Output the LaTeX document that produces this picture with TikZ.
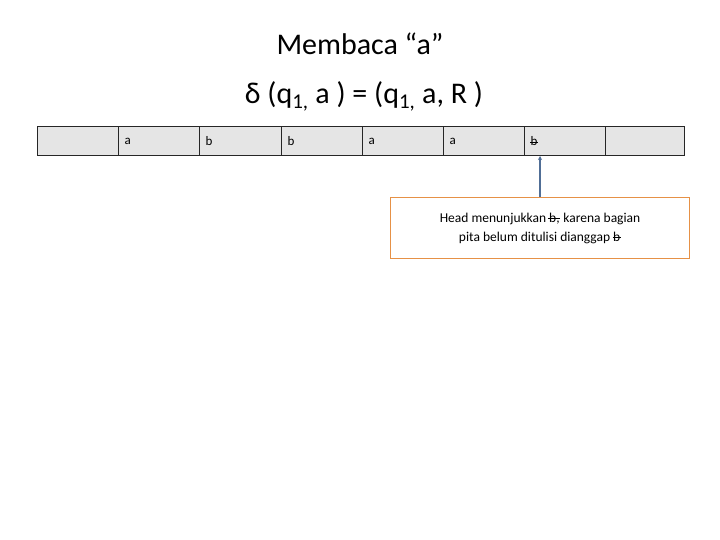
\documentclass[tikz,border=0pt]{standalone}
\usepackage{fontspec}
\usetikzlibrary{arrows.meta}
\setmainfont{Carlito}
\definecolor{calloutorange}{RGB}{230,145,70}
\definecolor{pointerblue}{RGB}{80,110,150}
\newcommand{\strb}{\mbox{b\hspace{-0.55em}\rule[0.22em]{0.6em}{0.6pt}}}
\newcommand{\strbc}{\mbox{b,\hspace{-0.85em}\rule[0.22em]{0.9em}{0.6pt}}}
\begin{document}
\begin{tikzpicture}[x=1pt,y=-1pt,
  cell/.style={draw=black!85,line width=1.2pt,fill=black!10,minimum height=29pt,inner sep=0pt,anchor=north west},
  ctext/.style={font=\fontsize{13}{15}\selectfont,anchor=west},
  ttl/.style={font=\fontsize{30}{34}\selectfont}]
\useasboundingbox (0,0) rectangle (720,540);
\fill[white] (0,0) rectangle (720,540);
\node[ttl] (t1) at (360,44) {Membaca “a”};
\node[ttl] (t2) at (364,96) {δ (q\textsubscript{1,} a ) = (q\textsubscript{1,} a, R )};
\foreach \i/\x/\w in {0/37/81,1/118/81,2/199/82,3/281/81,4/362/81,5/443/81,6/524/81,7/605/79}{
  \node[cell,minimum width=\w pt] (c\i) at (\x,126) {};
}
\node[ctext] (l1) at (121,141) {a};
\node[ctext] (l2) at (202,141) {b};
\node[ctext] (l3) at (284,141) {b};
\node[ctext] (l4) at (365,141) {a};
\node[ctext] (l5) at (446,141) {a};
\node[ctext] (l6) at (527,141) {\strb};
\node[draw=calloutorange,line width=1.5pt,fill=white,minimum width=299pt,minimum height=61pt,align=center,font=\fontsize{13.5}{19}\selectfont,inner sep=0pt] (call) at (540,228) {Head menunjukkan \strbc\ karena bagian\\pita belum ditulisi dianggap \strb};
\coordinate (tip) at (540,156);
\draw[pointerblue,line width=1.3pt,-{Stealth[length=4pt,width=4pt]}] (call.north) -- (tip);
\end{tikzpicture}
\end{document}
